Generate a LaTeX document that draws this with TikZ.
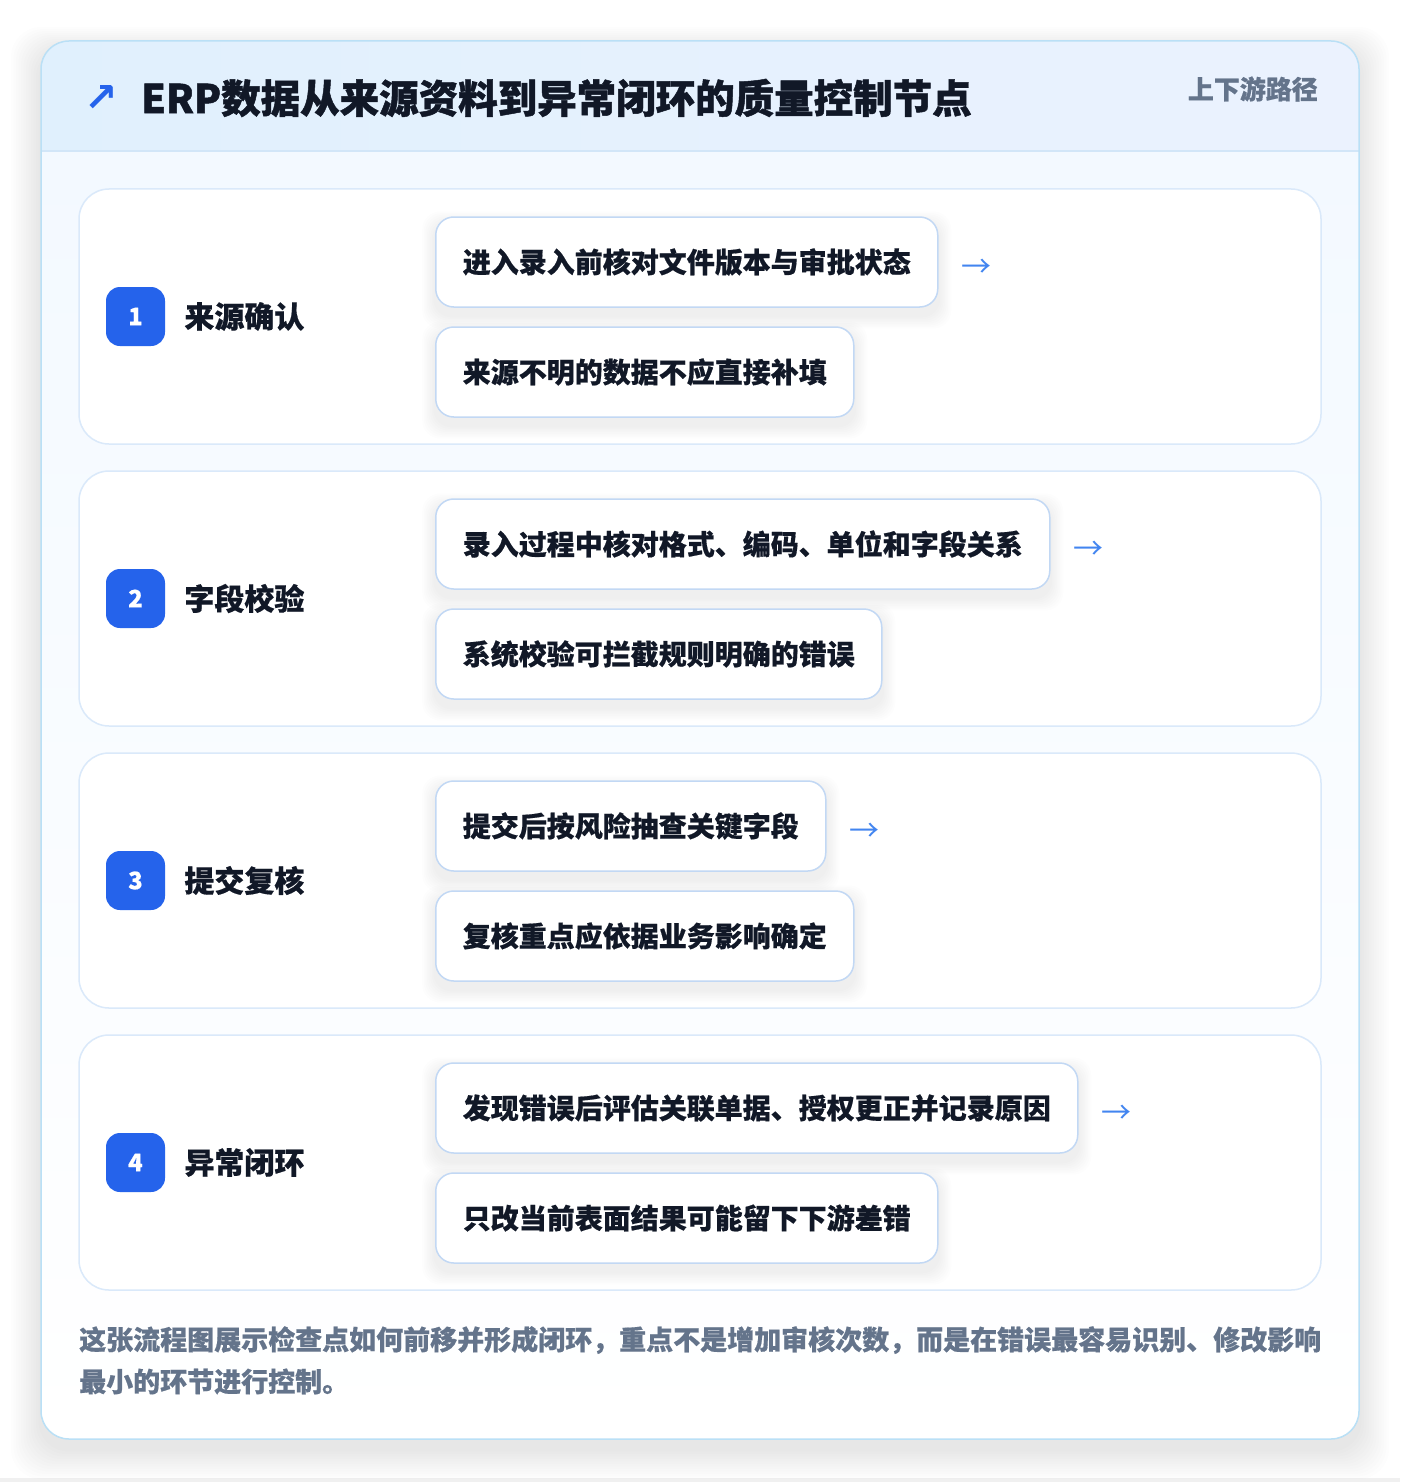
\documentclass[tikz,border=0pt]{standalone}
\usepackage{fontspec}
\setmainfont{Noto Sans CJK SC}[BoldFeatures={FakeBold=0.5}]
\newfontfamily\heavyfont{Noto Sans CJK SC}[BoldFeatures={FakeBold=1.2}]
\newfontfamily\symfont{DejaVu Sans}
\usetikzlibrary{positioning,calc}

\definecolor{frameline}{RGB}{186,224,246}
\definecolor{headleft}{RGB}{224,240,253}
\definecolor{headright}{RGB}{235,242,254}
\definecolor{headrule}{RGB}{210,230,248}
\definecolor{bodytop}{RGB}{243,249,255}
\definecolor{stepline}{RGB}{218,233,250}
\definecolor{boxline}{RGB}{194,216,244}
\definecolor{numblue}{RGB}{37,99,235}
\definecolor{arrowblue}{RGB}{66,133,240}
\definecolor{ink}{RGB}{17,24,39}
\definecolor{muted}{RGB}{100,116,139}

\pgfdeclarelayer{farshade}
\pgfdeclarelayer{cards}
\pgfdeclarelayer{shade}
\pgfsetlayers{farshade,cards,shade,main}

% soft drop shadow behind a named node
\newcommand{\dropshade}[4]{%
  \foreach \k in {1,...,#2}{
    \fill[black, opacity=#4, rounded corners=18pt]
      ($(#1.north west)+(-#3*\k,8-#3*\k)$) rectangle ($(#1.south east)+(#3*\k,8+#3*\k)$);}}

\tikzset{
  stepcard/.style={draw=stepline, line width=1.5pt, fill=white, rounded corners=30pt,
    minimum width=1242pt, minimum height=255pt, inner sep=0pt},
  numbox/.style={fill=numblue, rounded corners=14pt, minimum size=59pt, inner sep=0pt,
    text=white, font=\fontsize{24}{24}\selectfont\bfseries},
  steplab/.style={inner sep=0pt, text=ink, font=\fontsize{30}{30}\selectfont\bfseries},
  detail/.style={draw=boxline, line width=1.5pt, fill=white, rounded corners=18pt,
    anchor=west, minimum height=90pt, inner xsep=27pt, inner ysep=0pt, text=ink,
    font=\fontsize{28}{28}\selectfont\bfseries},
  nextarr/.style={inner sep=0pt, yshift=-6pt, text=arrowblue, font=\fontsize{30}{30}\selectfont},
}

\begin{document}
\begin{tikzpicture}[x=1pt,y=-1pt]
\useasboundingbox (0,0) rectangle (1400,1482);
\begin{pgfonlayer}{farshade}
\fill[white] (0,0) rectangle (1400,1482);
\fill[black!6] (0,1478) rectangle (1400,1482);
\coordinate (frameNW) at (41,41);
\coordinate (frameSE) at (1359,1439);
\foreach \k in {1,...,12}{
  \fill[black, opacity=0.008, rounded corners=30pt]
    ($(frameNW)+(-2.5*\k,10-2*\k)$) rectangle ($(frameSE)+(2.5*\k,10+2.5*\k)$);}
\end{pgfonlayer}

% outer frame and header
\begin{pgfonlayer}{cards}
\begin{scope}
\clip[rounded corners=28pt] (frameNW) rectangle (frameSE);
\fill[left color=headleft, right color=headright] (41,41) rectangle (1359,151);
\fill[top color=bodytop, bottom color=white] (41,151) rectangle (1359,1439);
\draw[headrule, line width=1.5pt] (41,151) -- (1359,151);
\end{scope}
\draw[frameline, line width=1.5pt, rounded corners=28pt] (frameNW) rectangle (frameSE);

% step cards
\node[stepcard] (card1) at (700,316.5) {};
\node[stepcard] (card2) at (700,598.5) {};
\node[stepcard] (card3) at (700,880.5) {};
\node[stepcard] (card4) at (700,1162.5) {};
\end{pgfonlayer}

\node[inner sep=0pt, text=numblue, font=\symfont\fontsize{40}{40}\selectfont\bfseries] (icon) at (101,99) {↗};
\node[anchor=west, inner sep=0pt, text=ink, font=\heavyfont\fontsize{39.5}{40}\selectfont\bfseries] (title) at (141,98)
  {ERP数据从来源资料到异常闭环的质量控制节点};
\node[anchor=east, inner sep=0pt, text=muted, font=\fontsize{26}{26}\selectfont\bfseries] (path) at (1318,89) {上下游路径};

% step 1
\node[numbox] (num1) at (135.5,316.5) {1};
\node[steplab, right=19pt of num1] (lab1) {来源确认};
\node[detail] (top1) at (435,262) {进入录入前核对文件版本与审批状态};
\node[detail] (bot1) at (435,372) {来源不明的数据不应直接补填};
\node[nextarr, right=23pt of top1] (arr1) {→};

% step 2
\node[numbox] (num2) at (135.5,598.5) {2};
\node[steplab, right=19pt of num2] (lab2) {字段校验};
\node[detail] (top2) at (435,544) {录入过程中核对格式、编码、单位和字段关系};
\node[detail] (bot2) at (435,654) {系统校验可拦截规则明确的错误};
\node[nextarr, right=23pt of top2] (arr2) {→};

% step 3
\node[numbox] (num3) at (135.5,880.5) {3};
\node[steplab, right=19pt of num3] (lab3) {提交复核};
\node[detail] (top3) at (435,826) {提交后按风险抽查关键字段};
\node[detail] (bot3) at (435,936) {复核重点应依据业务影响确定};
\node[nextarr, right=23pt of top3] (arr3) {→};

% step 4
\node[numbox] (num4) at (135.5,1162.5) {4};
\node[steplab, right=19pt of num4] (lab4) {异常闭环};
\node[detail] (top4) at (435,1108) {发现错误后评估关联单据、授权更正并记录原因};
\node[detail] (bot4) at (435,1218) {只改当前表面结果可能留下下游差错};
\node[nextarr, right=23pt of top4] (arr4) {→};

% shadows under the detail boxes
\begin{pgfonlayer}{shade}
\foreach \b in {top1,bot1,top2,bot2,top3,bot3,top4,bot4}{\dropshade{\b}{8}{1.6}{0.006}}
\end{pgfonlayer}

% footer note
\node[anchor=north west, align=left, inner sep=0pt, text=muted, font=\fontsize{27}{42}\selectfont\bfseries] (note) at (79,1326)
  {这张流程图展示检查点如何前移并形成闭环，重点不是增加审核次数，而是在错误最容易识别、修改影响\\最小的环节进行控制。};
\end{tikzpicture}
\end{document}
